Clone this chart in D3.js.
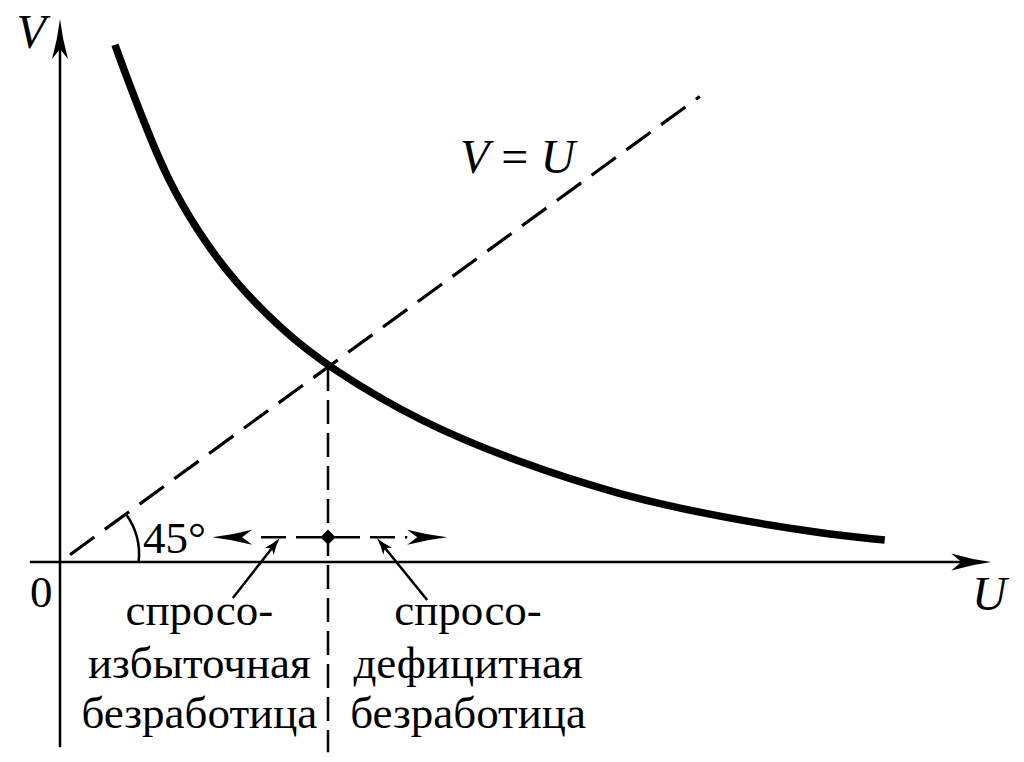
<!DOCTYPE html>
<html>
<head>
<meta charset="utf-8">
<script src="https://cdn.jsdelivr.net/npm/d3@7"></script>
<style>
  html, body { margin: 0; padding: 0; background: #fff; }
  svg { display: block; }
  text { font-family: "Liberation Serif", "DejaVu Serif", serif; fill: #000; }
</style>
</head>
<body>
<svg id="chart"></svg>
<script>
// V-U curve (vacancies vs unemployment)
const curveU = [0.82, 1.01, 1.30, 1.61, 2.04, 2.58, 3.31, 4.0, 5.37, 6.87, 8.36, 9.85, 11.34, 12.31];
const curveV = [10.61, 9.89, 8.86, 7.84, 6.81, 5.78, 4.76, 4.0, 2.87, 2.03, 1.37, 0.92, 0.59, 0.45];

// V = U line (start, end on U)
const diagU = [0.15, 9.55];

// equilibrium point and the horizontal arrow row below it
const eqU = 4.0;
const arrowRowV = 0.51;
const arrowEndsU = [2.27, 5.78];

// pointer arrows from labels to the dashes: [tailU, tailV, tipU, tipV]
const pointers = [
  [2.58, -0.74, 3.28, 0.49],
  [5.48, -0.78, 4.73, 0.49]
];

// text labels
const leftLabel = ["спросо-", "избыточная", "безработица"];
const rightLabel = ["спросо-", "дефицитная", "безработица"];
const labelU = [2.08, 6.09];
const labelLinesV = [-1.29, -2.38, -3.41];

const width = 1024;
const height = 762;

const svg = d3.select("#chart")
  .attr("width", width)
  .attr("height", height);

const xScale = d3.scaleLinear().domain([0, 14]).range([60, 998]);
const yScale = d3.scaleLinear().domain([0, 11]).range([562, 25.75]);

// concave arrowhead, tip at (x, y), pointing along angle (radians)
function arrowHead(g, x, y, angle, len, hw) {
  const p = d3.path();
  p.moveTo(0, 0);
  p.quadraticCurveTo(-len * 0.5, -hw * 0.3, -len, -hw);
  p.lineTo(-len * 0.75, 0);
  p.lineTo(-len, hw);
  p.quadraticCurveTo(-len * 0.5, hw * 0.3, 0, 0);
  p.closePath();
  g.append("path")
    .attr("d", p.toString())
    .attr("fill", "#000")
    .attr("transform", `translate(${x},${y}) rotate(${angle * 180 / Math.PI})`);
}

// axes (no ticks, just arrows)
const axes = svg.append("g");
axes.append("line")
  .attr("x1", xScale(-0.45)).attr("y1", yScale(0))
  .attr("x2", xScale(13.9) - 20).attr("y2", yScale(0))
  .attr("stroke", "#000").attr("stroke-width", 2.5);
arrowHead(axes, xScale(13.9), yScale(0), 0, 40, 8.5);

axes.append("line")
  .attr("x1", xScale(0)).attr("y1", yScale(-3.8))
  .attr("x2", xScale(0)).attr("y2", yScale(11.14) + 20)
  .attr("stroke", "#000").attr("stroke-width", 2.5);
arrowHead(axes, xScale(0), yScale(11.14), -Math.PI / 2, 40, 8);

// V = U dashed line
svg.append("line")
  .attr("x1", xScale(diagU[0])).attr("y1", yScale(diagU[0]))
  .attr("x2", xScale(diagU[1])).attr("y2", yScale(diagU[1]))
  .attr("stroke", "#000").attr("stroke-width", 3.2)
  .attr("stroke-dasharray", "30,13");

// 45° arc at the start of the diagonal
const cx = xScale(diagU[0]), cy = yScale(diagU[0]);
const diagAngle = Math.atan2(yScale(diagU[1]) - cy, xScale(diagU[1]) - cx);
const arcR = 69;
const arc = d3.path();
arc.moveTo(cx + arcR * Math.cos(diagAngle), cy + arcR * Math.sin(diagAngle));
arc.arc(cx, cy, arcR, diagAngle, Math.asin((yScale(0) - cy) / arcR));
svg.append("path")
  .attr("d", arc.toString())
  .attr("fill", "none").attr("stroke", "#000").attr("stroke-width", 2.5);

// vertical dashed line through equilibrium
svg.append("line")
  .attr("x1", xScale(eqU)).attr("y1", yScale(eqU))
  .attr("x2", xScale(eqU)).attr("y2", yScale(-3.9))
  .attr("stroke", "#000").attr("stroke-width", 2.5)
  .attr("stroke-dasharray", "24,9");

// horizontal dashed arrow row
const row = svg.append("g");
arrowEndsU.forEach(u => {
  const dir = u < eqU ? -1 : 1;
  const tipX = xScale(u);
  row.append("line")
    .attr("x1", xScale(eqU)).attr("y1", yScale(arrowRowV))
    .attr("x2", tipX - dir * 40).attr("y2", yScale(arrowRowV))
    .attr("stroke", "#000").attr("stroke-width", 2.5)
    .attr("stroke-dasharray", "32,10,25,10");
  arrowHead(row, tipX, yScale(arrowRowV), dir < 0 ? Math.PI : 0, 40, 7.5);
});
row.append("path")
  .attr("d", d3.symbol(d3.symbolSquare, 115)())
  .attr("transform", `translate(${xScale(eqU)},${yScale(arrowRowV)}) rotate(45)`)
  .attr("fill", "#000");

// pointer arrows
pointers.forEach(([u0, v0, u1, v1]) => {
  const x0 = xScale(u0), y0 = yScale(v0), x1 = xScale(u1), y1 = yScale(v1);
  const a = Math.atan2(y1 - y0, x1 - x0);
  svg.append("line")
    .attr("x1", x0).attr("y1", y0)
    .attr("x2", x1 - 8 * Math.cos(a)).attr("y2", y1 - 8 * Math.sin(a))
    .attr("stroke", "#000").attr("stroke-width", 2.5);
  arrowHead(svg, x1, y1, a, 17, 5.5);
});

// the curve
const pts = curveU.map((u, i) => [u, curveV[i]]);
svg.append("path")
  .datum(pts)
  .attr("d", d3.line()
    .x(d => xScale(d[0]))
    .y(d => yScale(d[1]))
    .curve(d3.curveBasis))
  .attr("fill", "none")
  .attr("stroke", "#000")
  .attr("stroke-width", 7.5);

// text
const fs = 45;
svg.append("text")
  .attr("x", xScale(-0.43)).attr("y", yScale(10.54))
  .attr("text-anchor", "middle")
  .attr("font-size", 48).attr("font-style", "italic")
  .text("V");
svg.append("text")
  .attr("x", xScale(13.87)).attr("y", yScale(-0.98))
  .attr("text-anchor", "middle")
  .attr("font-size", 48).attr("font-style", "italic")
  .text("U");
svg.append("text")
  .attr("x", xScale(-0.28)).attr("y", yScale(-0.92))
  .attr("text-anchor", "middle")
  .attr("font-size", fs)
  .text("0");

const eqText = svg.append("text")
  .attr("x", xScale(5.97)).attr("y", yScale(7.98))
  .attr("font-size", 48);
eqText.append("tspan").attr("font-style", "italic").text("V");
eqText.append("tspan").text(" = ");
eqText.append("tspan").attr("font-style", "italic").text("U");

svg.append("text")
  .attr("x", xScale(1.24)).attr("y", yScale(0.18))
  .attr("font-size", fs)
  .text("45°");

[leftLabel, rightLabel].forEach((lines, k) => {
  lines.forEach((s, i) => {
    svg.append("text")
      .attr("x", xScale(labelU[k])).attr("y", yScale(labelLinesV[i]))
      .attr("text-anchor", "middle")
      .attr("font-size", fs)
      .text(s);
  });
});
</script>
</body>
</html>
